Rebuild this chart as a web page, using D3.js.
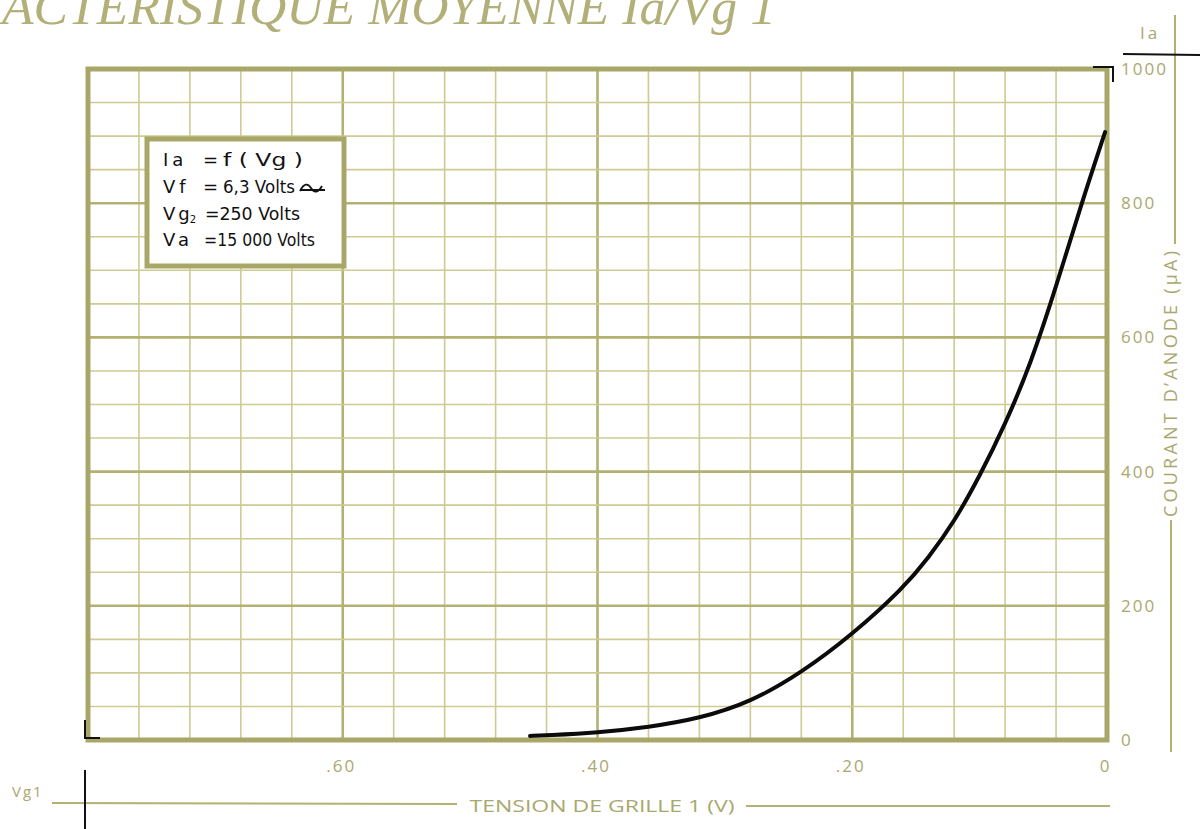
<!DOCTYPE html>
<html>
<head>
<meta charset="utf-8">
<script src="https://cdn.jsdelivr.net/npm/d3@7/dist/d3.min.js"></script>
<style>
  html, body { margin: 0; padding: 0; background: #fff; overflow: hidden; }
  svg { display: block; }
</style>
</head>
<body>
<svg id="chart" width="1203" height="829"></svg>
<script>
  // Ia = f(Vg1) characteristic
  var gridVoltage = [-45.3, -44, -40, -36, -32, -28, -24, -20, -16, -14, -12, -10, -8, -6, -4, -2, -0.15];
  var anodeCurrent = [6, 7, 11, 19, 32, 56, 100, 157, 226, 272, 325, 393, 470, 560, 675, 800, 906];

  var vgLabelTicks = [-60, -40, -20, 0];
  var iaLabelTicks = [0, 200, 400, 600, 800, 1000];

  var legendNames = ['Ia', 'Vf', 'Vg', 'Va'];
  var legendValues = ['f ( Vg )', '6,3 Volts', '=250 Volts', '=15 000 Volts'];

  var OLIVE_TEXT = '#a9a86e';
  var OLIVE_MINOR = '#cdca93';
  var OLIVE_MAJOR = '#b3b172';
  var OLIVE_FRAME = '#a9a768';
  var LABEL_FONT = "'Open Sans', 'DejaVu Sans', sans-serif";

  var svg = d3.select('#chart');
  svg.append('rect').attr('width', 1203).attr('height', 829).attr('fill', '#fff');

  var x = d3.scaleLinear().domain([-80, 0]).range([88, 1107]);
  var y = d3.scaleLinear().domain([0, 1000]).range([740, 69]);

  // title, cut by the top edge as on the sheet
  svg.append('text')
    .attr('x', 2).attr('y', 24)
    .attr('textLength', 774).attr('lengthAdjust', 'spacingAndGlyphs')
    .style('font-family', "'Liberation Serif', serif")
    .style('font-style', 'italic')
    .style('font-size', '50px')
    .attr('fill', '#b2b078')
    .text('ACTERISTIQUE  MOYENNE  Ia/Vg 1');

  // grid
  var grid = svg.append('g');
  var vMinor = d3.range(-80, 0.1, 4);
  var hMinor = d3.range(0, 1000.1, 50);

  grid.selectAll('.vmin').data(vMinor).enter().append('line')
    .attr('x1', function (d) { return x(d); }).attr('x2', function (d) { return x(d); })
    .attr('y1', y(0)).attr('y2', y(1000))
    .attr('stroke', function (d) { return d % 20 === 0 ? OLIVE_MAJOR : OLIVE_MINOR; })
    .attr('stroke-width', function (d) { return d % 20 === 0 ? 2.6 : 1.6; });

  grid.selectAll('.hmin').data(hMinor).enter().append('line')
    .attr('x1', x(-80)).attr('x2', x(0))
    .attr('y1', function (d) { return y(d); }).attr('y2', function (d) { return y(d); })
    .attr('stroke', function (d) { return d % 200 === 0 ? OLIVE_MAJOR : OLIVE_MINOR; })
    .attr('stroke-width', function (d) { return d % 200 === 0 ? 2.6 : 1.6; });

  // frame
  svg.append('rect')
    .attr('x', x(-80)).attr('y', y(1000))
    .attr('width', x(0) - x(-80)).attr('height', y(0) - y(1000))
    .attr('fill', 'none').attr('stroke', OLIVE_FRAME).attr('stroke-width', 5);

  // legend box
  var lg = svg.append('g');
  lg.append('rect')
    .attr('x', 147).attr('y', 139).attr('width', 197).attr('height', 127)
    .attr('fill', '#fff').attr('stroke', OLIVE_FRAME).attr('stroke-width', 5);

  var rowY = [160, 187, 214, 240];
  var valueX = [223, 223, 205, 204];
  var valueWidths = [80, 72, 95, 111];
  legendNames.forEach(function (name, i) {
    var t = lg.append('text')
      .attr('x', 163).attr('y', rowY[i]).attr('dy', '0.35em')
      .style('font-family', "'DejaVu Sans', sans-serif")
      .style('font-size', '18px')
      .attr('fill', '#111');
    t.append('tspan').style('letter-spacing', i === 2 ? '3px' : '4px').text(name);
    if (i === 2) {
      t.append('tspan').attr('dx', '-3').attr('dy', '3').style('font-size', '10px').text('2');
    }
    if (i < 2) {
      lg.append('text').attr('x', 203).attr('y', rowY[i]).attr('dy', '0.35em')
        .style('font-family', "'DejaVu Sans', sans-serif").style('font-size', '18px')
        .attr('fill', '#111').text('=');
    }
    lg.append('text').attr('x', valueX[i]).attr('y', rowY[i]).attr('dy', '0.35em')
      .attr('textLength', valueWidths[i]).attr('lengthAdjust', 'spacingAndGlyphs')
      .style('font-family', "'DejaVu Sans', sans-serif").style('font-size', '18px')
      .attr('fill', '#111').text(legendValues[i]);
  });
  // AC sign after 6,3 Volts
  lg.append('path')
    .attr('d', 'M300,191 C304,183 308,183 311,188 C314,193 318,193 322,186 M300,190 L325,190')
    .attr('fill', 'none').attr('stroke', '#111').attr('stroke-width', 1.8);

  // curve
  var pts = gridVoltage.map(function (v, i) { return [v, anodeCurrent[i]]; });
  var line = d3.line()
    .x(function (d) { return x(d[0]); })
    .y(function (d) { return y(d[1]); })
    .curve(d3.curveBasis);
  svg.append('path').datum(pts)
    .attr('d', line)
    .attr('fill', 'none').attr('stroke', '#0b0b0b')
    .attr('stroke-width', 4).attr('stroke-linecap', 'round');

  // right axis (Ia)
  var ay = svg.append('g').attr('transform', 'translate(' + x(0) + ',0)')
    .call(d3.axisRight(y).tickValues(iaLabelTicks).tickSize(0).tickPadding(14)
      .tickFormat(d3.format('d')));
  ay.select('.domain').remove();
  ay.selectAll('text')
    .style('font-family', LABEL_FONT).style('font-size', '17px')
    .style('letter-spacing', '2px').attr('fill', OLIVE_TEXT);

  // bottom axis (Vg1)
  var ax = svg.append('g').attr('transform', 'translate(-2,' + y(0) + ')')
    .call(d3.axisBottom(x).tickValues(vgLabelTicks).tickSize(0).tickPadding(20)
      .tickFormat(function (d) { return d === 0 ? '0' : '.' + Math.abs(d); }));
  ax.select('.domain').remove();
  ax.selectAll('text')
    .style('font-family', LABEL_FONT).style('font-size', '17px')
    .style('letter-spacing', '2px').attr('fill', OLIVE_TEXT);

  // axis title right
  var dec = svg.append('g');
  dec.append('line').attr('x1', 1175).attr('x2', 1175).attr('y1', 15).attr('y2', 244)
    .attr('stroke', OLIVE_MAJOR).attr('stroke-width', 2);
  dec.append('line').attr('x1', 1171).attr('x2', 1171).attr('y1', 520).attr('y2', 752)
    .attr('stroke', OLIVE_MAJOR).attr('stroke-width', 2);
  dec.append('text')
    .attr('transform', 'translate(1171,384) rotate(-90)')
    .attr('text-anchor', 'middle').attr('dy', '0.35em')
    .attr('textLength', 266).attr('lengthAdjust', 'spacing')
    .style('font-family', LABEL_FONT).style('font-size', '18px')
    .attr('fill', OLIVE_TEXT)
    .text('COURANT D\u2019ANODE (\u00b5A)');
  dec.append('text')
    .attr('x', 1150).attr('y', 33).attr('text-anchor', 'middle').attr('dy', '0.35em')
    .style('font-family', LABEL_FONT).style('font-size', '17px')
    .style('letter-spacing', '3px').attr('fill', OLIVE_TEXT)
    .text('Ia');
  dec.append('line').attr('x1', 1123).attr('x2', 1200).attr('y1', 54).attr('y2', 55)
    .attr('stroke', '#111').attr('stroke-width', 2);

  // corner marks
  dec.append('path').attr('d', 'M1093,67 L1113,67 L1113,82')
    .attr('fill', 'none').attr('stroke', '#111').attr('stroke-width', 2);
  dec.append('path').attr('d', 'M85,720 L85,738 L100,738')
    .attr('fill', 'none').attr('stroke', '#111').attr('stroke-width', 2);

  // axis title bottom
  dec.append('text').attr('x', 12).attr('y', 792).attr('dy', '0.35em')
    .style('font-family', LABEL_FONT).style('font-size', '15px')
    .style('letter-spacing', '2px').attr('fill', OLIVE_TEXT).text('Vg1');
  dec.append('line').attr('x1', 52).attr('x2', 457).attr('y1', 803).attr('y2', 804)
    .attr('stroke', OLIVE_MAJOR).attr('stroke-width', 2);
  dec.append('line').attr('x1', 746).attr('x2', 1110).attr('y1', 806).attr('y2', 806)
    .attr('stroke', OLIVE_MAJOR).attr('stroke-width', 2);
  dec.append('text').attr('x', 602).attr('y', 806).attr('text-anchor', 'middle').attr('dy', '0.35em')
    .attr('textLength', 265).attr('lengthAdjust', 'spacingAndGlyphs')
    .style('font-family', LABEL_FONT).style('font-size', '17px')
    .attr('fill', OLIVE_TEXT).text('TENSION DE GRILLE 1 (V)');
  dec.append('line').attr('x1', 85).attr('x2', 85).attr('y1', 770).attr('y2', 829)
    .attr('stroke', '#111').attr('stroke-width', 2);
</script>
</body>
</html>
